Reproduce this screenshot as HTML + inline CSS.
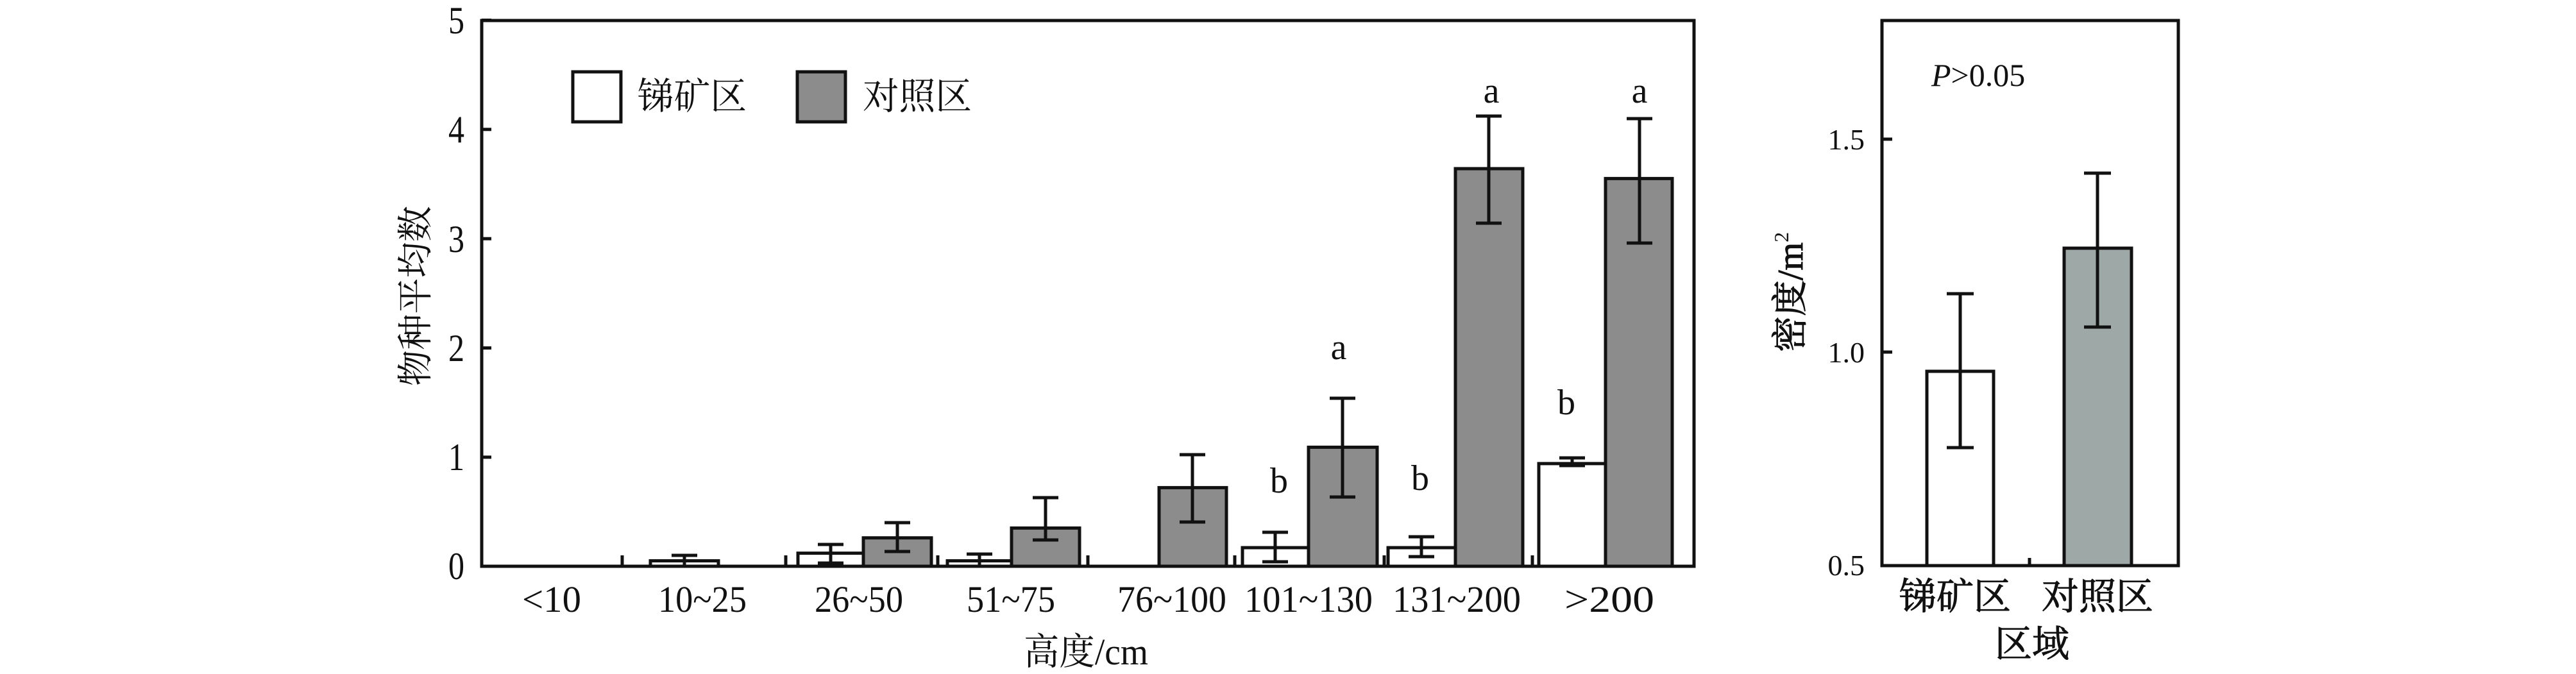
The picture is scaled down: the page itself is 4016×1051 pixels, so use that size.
<!DOCTYPE html>
<html><head><meta charset="utf-8"><style>
html,body{margin:0;padding:0;background:#fff;}
svg{display:block;}
text{font-family:"Liberation Serif","Noto Serif CJK SC",serif;fill:#111;}
.cjk{font-family:"Liberation Serif","Noto Serif CJK SC","Noto Sans CJK SC",serif;}
</style></head><body>
<svg width="4016" height="1051" viewBox="0 0 4016 1051" xmlns="http://www.w3.org/2000/svg">
<g stroke="#111" stroke-width="5" fill="none">
<rect x="751" y="32" width="1890" height="851"/>
<line x1="751" y1="31.5" x2="766" y2="31.5"/>
<line x1="751" y1="201.8" x2="766" y2="201.8"/>
<line x1="751" y1="372.2" x2="766" y2="372.2"/>
<line x1="751" y1="542.6" x2="766" y2="542.6"/>
<line x1="751" y1="712.9" x2="766" y2="712.9"/>
<line x1="970" y1="883" x2="970" y2="866"/>
<line x1="1225" y1="883" x2="1225" y2="866"/>
<line x1="1462" y1="883" x2="1462" y2="866"/>
<line x1="1696" y1="883" x2="1696" y2="866"/>
<line x1="1925" y1="883" x2="1925" y2="866"/>
<line x1="2158" y1="883" x2="2158" y2="866"/>
<line x1="2389" y1="883" x2="2389" y2="866"/>
</g>
<g stroke="#111" stroke-width="5">
<rect x="1014" y="874.5" width="106" height="8.5" fill="#fff"/>
<rect x="1244" y="862.6" width="102" height="20.4" fill="#fff"/>
<rect x="1346" y="838.7" width="106" height="44.3" fill="#8c8c8c"/>
<rect x="1477" y="874.5" width="100" height="8.5" fill="#fff"/>
<rect x="1577" y="823.4" width="106" height="59.6" fill="#8c8c8c"/>
<rect x="1807" y="760.4" width="105" height="122.6" fill="#8c8c8c"/>
<rect x="1937" y="854" width="103" height="29" fill="#fff"/>
<rect x="2040" y="697.4" width="107" height="185.6" fill="#8c8c8c"/>
<rect x="2164" y="854" width="105" height="29" fill="#fff"/>
<rect x="2269" y="263" width="105" height="620" fill="#8c8c8c"/>
<rect x="2399" y="722.9" width="104" height="160.1" fill="#fff"/>
<rect x="2503" y="278.4" width="104" height="604.6" fill="#8c8c8c"/>
</g>
<g stroke="#111" stroke-width="5" fill="none">
<path d="M1067 866v17M1047 866h40"/>
<path d="M1295 849v29M1275 849h40M1275 878h40"/>
<path d="M1399 815v45M1379 815h40M1379 860h40"/>
<path d="M1527 864v19M1507 864h40"/>
<path d="M1630 776v66M1610 776h40M1610 842h40"/>
<path d="M1859 709v105M1839 709h40M1839 814h40"/>
<path d="M1988 830v46M1968 830h40M1968 876h40"/>
<path d="M2093 621v154M2073 621h40M2073 775h40"/>
<path d="M2216 837v31M2196 837h40M2196 868h40"/>
<path d="M2321 181v167M2301 181h40M2301 348h40"/>
<path d="M2451 714v12M2431 714h40M2431 726h40"/>
<path d="M2556 185v194M2536 185h40M2536 379h40"/>
</g>
<rect x="893" y="112" width="75" height="78" fill="#fff" stroke="#111" stroke-width="5"/>
<rect x="1243" y="112" width="75" height="78" fill="#8c8c8c" stroke="#111" stroke-width="5"/>
<text class="cjk" x="994" y="170" font-size="58" textLength="170" lengthAdjust="spacingAndGlyphs">锑矿区</text>
<text class="cjk" x="1345" y="170" font-size="58" textLength="170" lengthAdjust="spacingAndGlyphs">对照区</text>
<g font-size="56" text-anchor="middle">
<text x="1994" y="768">b</text>
<text x="2087" y="560">a</text>
<text x="2214" y="764">b</text>
<text x="2325" y="160">a</text>
<text x="2442" y="646">b</text>
<text x="2556" y="160">a</text>
</g>
<g font-size="60" text-anchor="end">
<text x="724" y="52" textLength="25" lengthAdjust="spacingAndGlyphs">5</text>
<text x="724" y="222" textLength="25" lengthAdjust="spacingAndGlyphs">4</text>
<text x="724" y="393" textLength="25" lengthAdjust="spacingAndGlyphs">3</text>
<text x="724" y="563" textLength="25" lengthAdjust="spacingAndGlyphs">2</text>
<text x="724" y="733" textLength="25" lengthAdjust="spacingAndGlyphs">1</text>
<text x="724" y="903" textLength="25" lengthAdjust="spacingAndGlyphs">0</text>
</g>
<g font-size="58">
<text x="814" y="954" textLength="92" lengthAdjust="spacingAndGlyphs">&lt;10</text>
<text x="1026" y="954" textLength="138" lengthAdjust="spacingAndGlyphs">10~25</text>
<text x="1270" y="954" textLength="138" lengthAdjust="spacingAndGlyphs">26~50</text>
<text x="1507" y="954" textLength="138" lengthAdjust="spacingAndGlyphs">51~75</text>
<text x="1742" y="954" textLength="170" lengthAdjust="spacingAndGlyphs">76~100</text>
<text x="1940" y="954" textLength="200" lengthAdjust="spacingAndGlyphs">101~130</text>
<text x="2171" y="954" textLength="200" lengthAdjust="spacingAndGlyphs">131~200</text>
<text x="2439" y="954" textLength="140" lengthAdjust="spacingAndGlyphs">&gt;200</text>
</g>
<text class="cjk" x="1596" y="1036" font-size="58" textLength="194" lengthAdjust="spacingAndGlyphs">高度/cm</text>
<text class="cjk" transform="translate(667,602) rotate(-90)" font-size="56" textLength="281" lengthAdjust="spacingAndGlyphs">物种平均数</text>

<g stroke="#111" stroke-width="5" fill="none">
<rect x="2934" y="32" width="462" height="850"/>
<line x1="2934" y1="217" x2="2950" y2="217"/>
<line x1="2934" y1="549" x2="2950" y2="549"/>
<line x1="3164" y1="882" x2="3164" y2="870"/>
</g>
<rect x="3004" y="579" width="104" height="303" fill="#fff" stroke="#111" stroke-width="5"/>
<rect x="3218" y="387" width="105" height="495" fill="#9ea8a7" stroke="#111" stroke-width="5"/>
<g stroke="#111" stroke-width="5" fill="none">
<path d="M3056 458v240M3035 458h42M3035 698h42"/>
<path d="M3270 270v240M3249 270h42M3249 510h42"/>
</g>
<g font-size="46" text-anchor="end">
<text x="2907" y="233">1.5</text>
<text x="2907" y="565">1.0</text>
<text x="2907" y="897">0.5</text>
</g>
<text x="3011" y="134" font-size="50"><tspan font-style="italic">P</tspan>&gt;0.05</text>
<g stroke="#111" stroke-width="1">
<text class="cjk" x="3048" y="950" font-size="58" text-anchor="middle">锑矿区</text>
<text class="cjk" x="3270" y="950" font-size="58" text-anchor="middle">对照区</text>
<text class="cjk" x="3168" y="1024" font-size="58" text-anchor="middle">区域</text>
<text class="cjk" transform="translate(2810,549) rotate(-90)" font-size="56">密度/m<tspan font-size="32" stroke-width="0" dy="-22">2</tspan></text>
</g>
</svg>
</body></html>
